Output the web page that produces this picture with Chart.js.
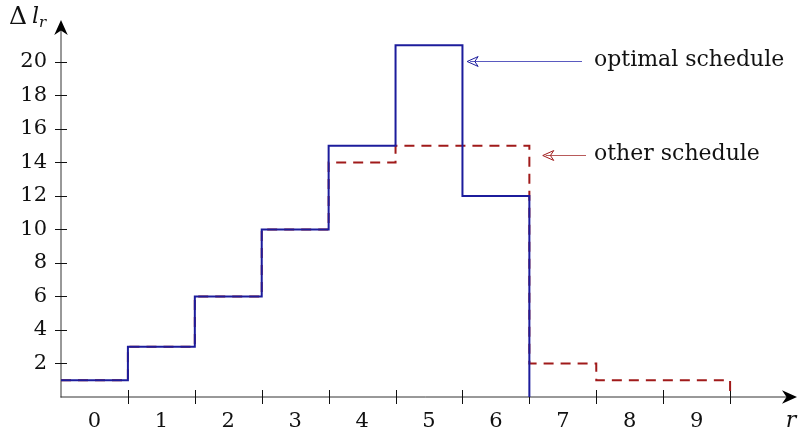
<!DOCTYPE html>
<html>
<head>
<meta charset="utf-8">
<script src="https://cdn.jsdelivr.net/npm/chart.js@4/dist/chart.umd.min.js"></script>
<style>
    html, body { margin: 0; padding: 0; background: #fff; }
    #wrap { width: 801px; height: 440px; }
</style>
</head>
<body>
<div id="wrap"><canvas id="myChart" width="801" height="440"></canvas></div>
<script>
// step edges (tick marks) and labels on r
const edges = [-0.5, 0.5, 1.5, 2.5, 3.5, 4.5, 5.5, 6.5, 7.5, 8.5, 9.5];
const rLabels = [0, 1, 2, 3, 4, 5, 6, 7, 8, 9];
const yTicks = [2, 4, 6, 8, 10, 12, 14, 16, 18, 20];

// Δl_r per r
const optimal = [1, 3, 6, 10, 15, 21, 12];
const other = [1, 3, 6, 10, 14, 15, 15, 2, 1, 1];

const blue = '#1c1c9c';
const red = '#a01a1a';
const font = '"DejaVu Serif", "Liberation Serif", serif';

function stepPoints(values) {
    const pts = values.map((v, i) => ({x: edges[i], y: v}));
    pts.push({x: edges[values.length], y: values[values.length - 1]});
    pts.push({x: edges[values.length], y: 0});
    return pts;
}

function arrowHead(ctx, x, y, dir, size, filled) {
    ctx.save();
    ctx.translate(x, y);
    ctx.rotate(dir);
    ctx.beginPath();
    ctx.moveTo(0, 0);
    ctx.lineTo(-size, -size * 0.45);
    ctx.lineTo(-size * 0.7, 0);
    ctx.lineTo(-size, size * 0.45);
    ctx.closePath();
    if (filled) ctx.fill(); else ctx.stroke();
    ctx.restore();
}

const axesPlugin = {
    id: 'axesPlugin',
    beforeDatasetsDraw(chart) {
        const ctx = chart.ctx;
        const xs = chart.scales.x;
        const ys = chart.scales.y;
        const x0 = xs.getPixelForValue(-0.5);
        const y0 = ys.getPixelForValue(0);
        const xEnd = xs.getPixelForValue(xs.max);
        const yEnd = ys.getPixelForValue(ys.max);

        ctx.save();
        ctx.strokeStyle = '#333';
        ctx.fillStyle = '#000';
        ctx.lineWidth = 1;
        ctx.beginPath();
        ctx.moveTo(x0 - 0.5, y0);
        ctx.lineTo(xEnd - 6, y0);
        ctx.moveTo(x0, y0 + 0.5);
        ctx.lineTo(x0, yEnd + 6);
        ctx.stroke();
        arrowHead(ctx, xEnd, y0, 0, 15, true);
        arrowHead(ctx, x0, yEnd, -Math.PI / 2, 15, true);

        // tick marks
        ctx.strokeStyle = '#111';
        ctx.beginPath();
        edges.slice(1).forEach(e => {
            const px = Math.round(xs.getPixelForValue(e)) + 0.5;
            ctx.moveTo(px, y0 - 7);
            ctx.lineTo(px, y0 + 7);
        });
        yTicks.forEach(t => {
            const py = Math.round(ys.getPixelForValue(t)) + 0.5;
            ctx.moveTo(x0 - 6, py);
            ctx.lineTo(x0 + 6, py);
        });
        ctx.stroke();

        // labels
        ctx.fillStyle = '#111';
        ctx.font = '21px ' + font;
        ctx.textBaseline = 'middle';
        ctx.textAlign = 'center';
        rLabels.forEach(r => ctx.fillText(String(r), xs.getPixelForValue(r), y0 + 25));
        ctx.textAlign = 'right';
        yTicks.forEach(t => ctx.fillText(String(t), x0 - 14, ys.getPixelForValue(t)));

        ctx.font = 'italic 22px ' + font;
        ctx.textAlign = 'center';
        ctx.fillText('r', xEnd - 6, y0 + 24);

        ctx.textAlign = 'left';
        ctx.font = '25px ' + font;
        ctx.fillText('Δ', 9, 17);
        ctx.font = 'italic 22px ' + font;
        ctx.fillText('l', 32, 17);
        ctx.font = 'italic 15px ' + font;
        ctx.fillText('r', 39, 23);
        ctx.restore();
    },
    afterDatasetsDraw(chart) {
        const ctx = chart.ctx;
        const xs = chart.scales.x;
        const ys = chart.scales.y;
        const notes = [
            {text: 'optimal schedule', tip: [5.57, 20.05], from: 582, color: '#5a5ac0', head: blue},
            {text: 'other schedule', tip: [6.7, 14.45], from: 586, color: '#b85a5a', head: red}
        ];
        ctx.save();
        notes.forEach(n => {
            const tx = xs.getPixelForValue(n.tip[0]);
            const ty = Math.round(ys.getPixelForValue(n.tip[1])) + 0.5;
            ctx.strokeStyle = n.color;
            ctx.lineWidth = 1.2;
            ctx.beginPath();
            ctx.moveTo(n.from, ty);
            ctx.lineTo(tx + 3, ty);
            ctx.stroke();
            ctx.strokeStyle = n.head;
            ctx.lineWidth = 1;
            arrowHead(ctx, tx, ty, Math.PI, 11, false);
            ctx.fillStyle = '#111';
            ctx.font = '22px ' + font;
            ctx.textAlign = 'left';
            ctx.textBaseline = 'middle';
            ctx.fillText(n.text, 594, ty - 1);
        });
        ctx.restore();
    }
};

new Chart(document.getElementById('myChart'), {
    type: 'line',
    data: {
        datasets: [
            {
                label: 'optimal schedule',
                data: stepPoints(optimal),
                stepped: true,
                borderColor: blue,
                borderWidth: 2,
                pointRadius: 0,
                fill: false
            },
            {
                label: 'other schedule',
                data: stepPoints(other),
                stepped: true,
                borderColor: red,
                borderWidth: 2,
                borderDash: [10, 7],
                pointRadius: 0,
                fill: false
            }
        ]
    },
    options: {
        responsive: false,
        animation: false,
        layout: {padding: {left: 61, right: 4, top: 20, bottom: 43}},
        plugins: {legend: {display: false}, tooltip: {enabled: false}},
        scales: {
            x: {type: 'linear', min: -0.5, max: 10.5, display: false},
            y: {type: 'linear', min: 0, max: 22.5, display: false}
        }
    },
    plugins: [axesPlugin]
});
</script>
</body>
</html>
